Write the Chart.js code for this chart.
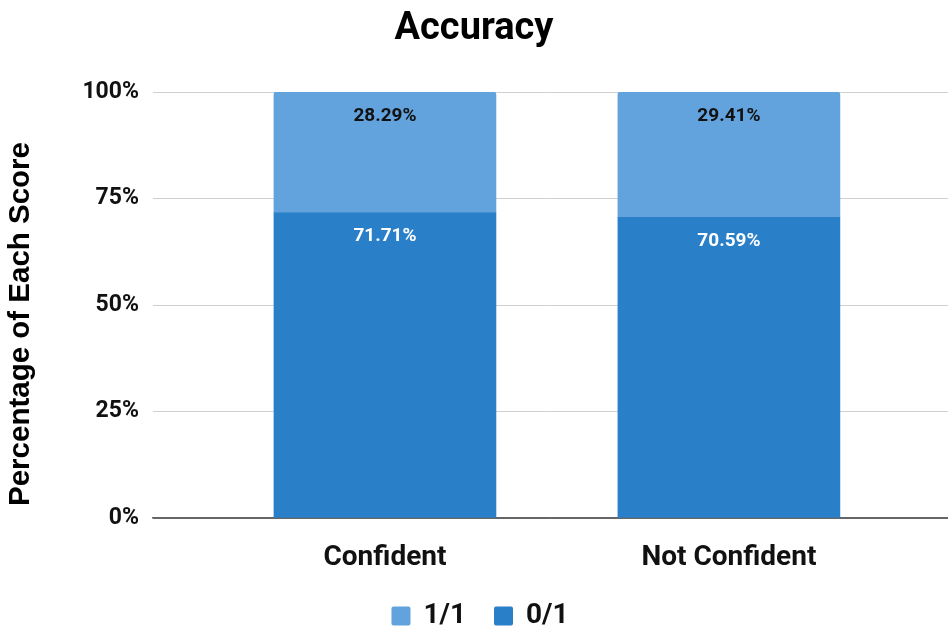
<!DOCTYPE html>
<html>
<head>
<meta charset="utf-8">
<script src="https://cdn.jsdelivr.net/npm/chart.js@4/dist/chart.umd.min.js"></script>
<style>
  html, body { margin: 0; padding: 0; background: #ffffff; }
  #wrap { width: 948px; height: 633px; position: relative; }
</style>
</head>
<body>
<div id="wrap"><canvas id="chart" width="948" height="633"></canvas></div>
<script>
// Groups along the horizontal axis
const categories = ['Confident', 'Not Confident'];
// Share of each score, in percent
const incorrectShare = [71.71, 70.59]; // score 0/1
const correctShare = [28.29, 29.41];   // score 1/1
// Value axis ticks
const yTicks = [0, 25, 50, 75, 100];

const DARK = '#2a7fc9';
const LIGHT = '#62a3de';

// White page behind the chart
const background = {
  id: 'background',
  beforeDraw(chart) {
    const c = chart.ctx;
    c.save();
    c.fillStyle = '#ffffff';
    c.fillRect(0, 0, chart.width, chart.height);
    c.restore();
  }
};

// Percentage written near the top of every segment
const segmentLabels = {
  id: 'segmentLabels',
  afterDatasetsDraw(chart) {
    const c = chart.ctx;
    c.save();
    c.font = 'bold 19px Roboto';
    c.textAlign = 'center';
    c.textBaseline = 'middle';
    chart.data.datasets.forEach((ds, di) => {
      const meta = chart.getDatasetMeta(di);
      meta.data.forEach((bar, i) => {
        const top = Math.min(bar.y, bar.base);
        c.fillStyle = ds.labelColor;
        c.fillText(ds.data[i].y.toFixed(2) + '%', bar.x, top + 24);
      });
    });
    c.restore();
  }
};

// Rotated title of the value axis
const yTitle = {
  id: 'yTitle',
  afterDraw(chart) {
    const c = chart.ctx;
    c.save();
    c.translate(21, 324);
    c.rotate(-Math.PI / 2);
    c.font = 'bold 29.5px "Liberation Sans", Arial, sans-serif';
    c.fillStyle = '#000000';
    c.textAlign = 'center';
    c.textBaseline = 'middle';
    c.fillText('Percentage of Each Score', 0, 0);
    c.restore();
  }
};

// Legend row under the axis: top series first
const legendRow = {
  id: 'legendRow',
  afterDraw(chart) {
    const c = chart.ctx;
    const box = 19, boxGap = 13, itemGap = 28, cy = 616, centerX = 480;
    c.save();
    c.font = 'bold 28px Roboto';
    c.textBaseline = 'middle';
    c.textAlign = 'left';
    const items = chart.data.datasets.slice().reverse();
    const widths = items.map(ds => box + boxGap + c.measureText(ds.label).width);
    const total = widths.reduce((a, b) => a + b, 0) + itemGap * (items.length - 1);
    let x = centerX - total / 2;
    items.forEach((ds, i) => {
      c.fillStyle = ds.backgroundColor;
      c.beginPath();
      c.roundRect(x, cy - box / 2, box, box, 2);
      c.fill();
      c.fillStyle = '#111111';
      c.fillText(ds.label, x + box + boxGap, cy);
      x += widths[i] + itemGap;
    });
    c.restore();
  }
};

const toPoints = (vals) => vals.map((v, i) => ({ x: i, y: v }));

new Chart(document.getElementById('chart'), {
  type: 'bar',
  data: {
    datasets: [
      {
        label: '0/1',
        data: toPoints(incorrectShare),
        backgroundColor: DARK,
        labelColor: '#ffffff',
        barThickness: 222,
        borderSkipped: false,
        borderRadius: 0
      },
      {
        label: '1/1',
        data: toPoints(correctShare),
        backgroundColor: LIGHT,
        labelColor: '#111111',
        barThickness: 222,
        borderSkipped: false,
        borderRadius: { topLeft: 3, topRight: 3, bottomLeft: 0, bottomRight: 0 }
      }
    ]
  },
  options: {
    responsive: false,
    animation: false,
    layout: { padding: { left: 0, right: 0, top: 0, bottom: 55 } },
    plugins: {
      title: {
        display: true,
        text: 'Accuracy',
        color: '#000000',
        font: { family: 'Roboto', weight: 'bold', size: 38 },
        padding: { top: 7, bottom: 39.4 }
      },
      legend: { display: false },
      tooltip: { enabled: false }
    },
    scales: {
      x: {
        type: 'linear',
        stacked: true,
        offset: false,
        min: -0.6744,
        max: 1.637,
        afterBuildTicks(scale) {
          scale.ticks = categories.map((_, i) => ({ value: i }));
        },
        afterFit(scale) { scale.height = 60; },
        ticks: {
          autoSkip: false,
          maxRotation: 0,
          padding: 15,
          color: '#111111',
          font: { family: 'Roboto', weight: 'bold', size: 28 },
          callback: (v) => categories[v] ?? ''
        },
        grid: { display: false, offset: false },
        border: { display: true, color: '#666666', width: 1.5 }
      },
      y: {
        stacked: true,
        min: 0,
        max: 100,
        afterBuildTicks(scale) {
          scale.ticks = yTicks.map(v => ({ value: v }));
        },
        afterFit(scale) { scale.width = 153; },
        ticks: {
          padding: 14,
          color: '#111111',
          font: { family: 'Roboto', weight: 'bold', size: 23 },
          callback: (v) => v + '%'
        },
        grid: {
          drawTicks: false,
          color: (ctx) => (ctx.tick && ctx.tick.value === 0) ? '#666666' : '#d0d0d0',
          lineWidth: 1
        },
        border: { display: false }
      }
    }
  },
  plugins: [background, segmentLabels, yTitle, legendRow]
});
</script>
</body>
</html>
